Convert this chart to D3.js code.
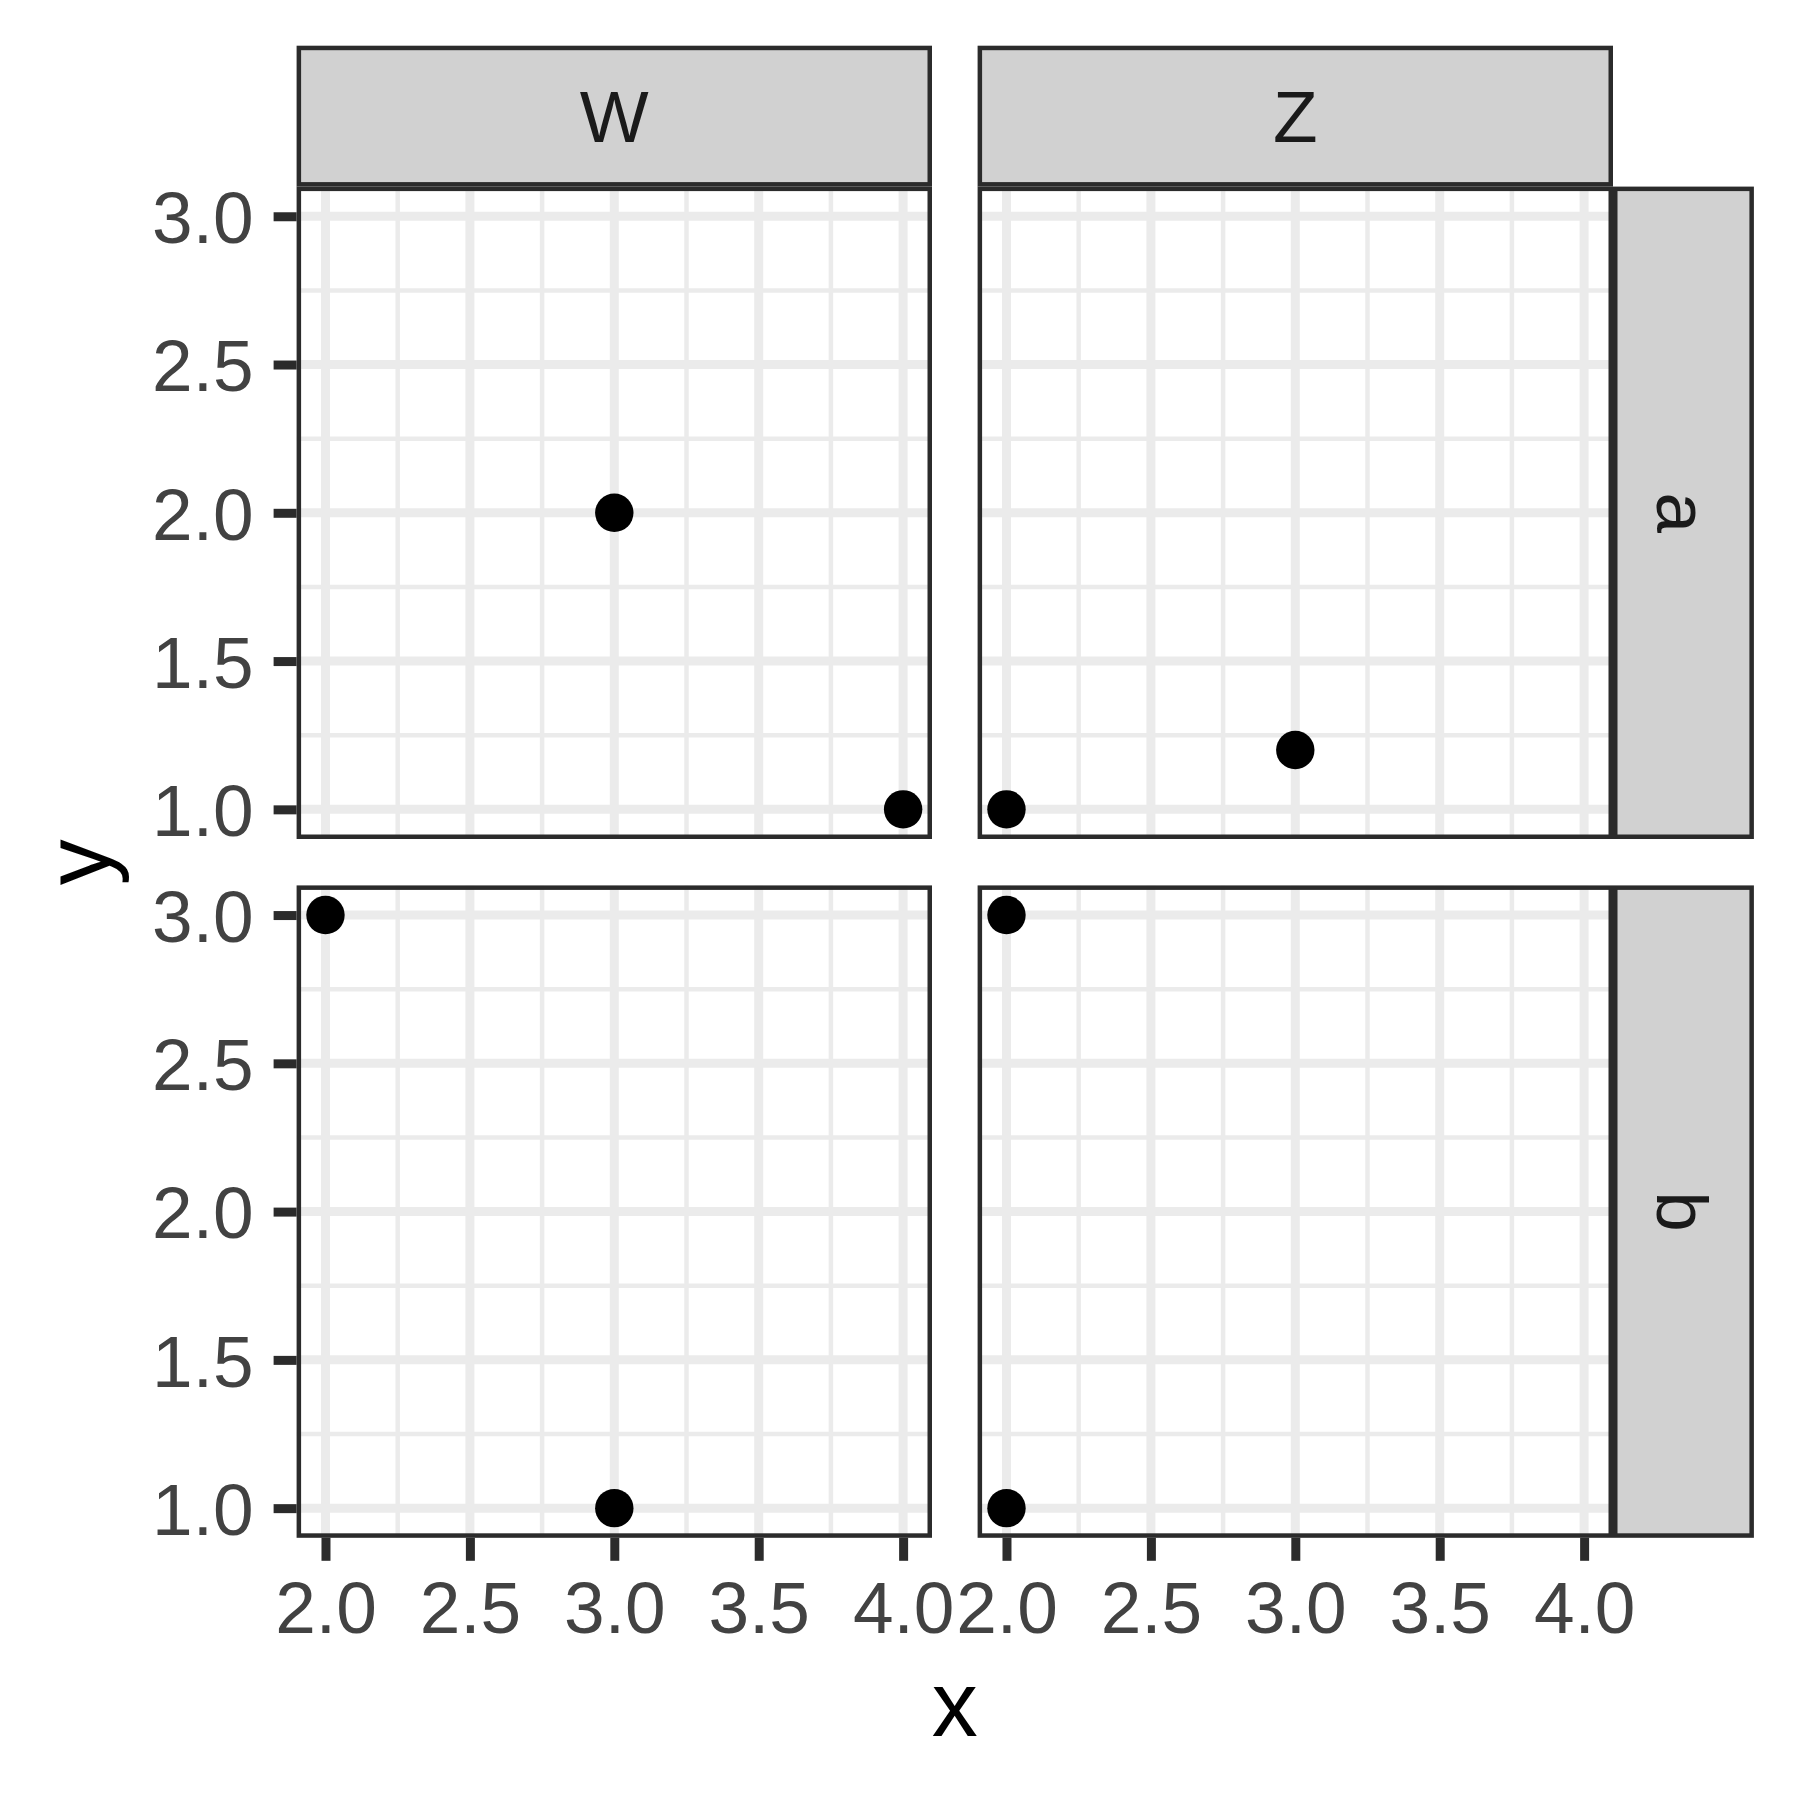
<!DOCTYPE html>
<html>
<head>
<meta charset="utf-8">
<script src="https://cdn.jsdelivr.net/npm/d3@7"></script>
<style>
  html, body { margin: 0; padding: 0; background: #ffffff; }
  svg { display: block; }
  text { font-family: "Liberation Sans", Arial, Helvetica, sans-serif; }
</style>
</head>
<body>
<svg id="chart" width="1800" height="1800"></svg>
<script>
// ---- data ----
const colFacets = ["W", "Z"];
const rowFacets = ["a", "b"];
const pointsWA = [{x: 3, y: 2}, {x: 4, y: 1}];
const pointsZA = [{x: 2, y: 1}, {x: 3, y: 1.2}];
const pointsWB = [{x: 2, y: 3}, {x: 3, y: 1}];
const pointsZB = [{x: 2, y: 3}, {x: 2, y: 1}];
const xTicks = [2.0, 2.5, 3.0, 3.5, 4.0];
const yTicks = [1.0, 1.5, 2.0, 2.5, 3.0];
const xMinor = [2.25, 2.75, 3.25, 3.75];
const yMinor = [1.25, 1.75, 2.25, 2.75];
const xDomain = [1.9, 4.1];
const yDomain = [0.9, 3.1];
const xTitle = "x";
const yTitle = "y";

const panels = [
  {col: 0, row: 0, pts: pointsWA},
  {col: 1, row: 0, pts: pointsZA},
  {col: 0, row: 1, pts: pointsWB},
  {col: 1, row: 1, pts: pointsZB}
];

// ---- layout ----
const colX = [296.6, 977.6];
const panelW = 635.4;
const rowY = [186.6, 885.4];
const panelH = 652.4;
const stripTopY = 45.7;
const stripSize = 140.9;
const stripRightX = colX[1] + panelW;

const lineW = 9;        // base line width
const halfW = lineW / 2;
const borderCol = "#2B2B2B";
const gridCol = "#EBEBEB";
const stripFill = "#D1D1D1";
const tickLabCol = "#424242";
const stripTextCol = "#1A1A1A";
const tickFont = 73;
const titleFont = 92;

const svg = d3.select("#chart");

function xScale(col) {
  return d3.scaleLinear().domain(xDomain).range([colX[col], colX[col] + panelW]);
}
function yScale(row) {
  return d3.scaleLinear().domain(yDomain).range([rowY[row] + panelH, rowY[row]]);
}

// ---- panels ----
panels.forEach(p => {
  const xs = xScale(p.col), ys = yScale(p.row);
  const g = svg.append("g");
  const x0 = colX[p.col], y0 = rowY[p.row];
  const clipId = "clip" + p.col + p.row;
  svg.append("clipPath").attr("id", clipId)
    .append("rect").attr("x", x0).attr("y", y0).attr("width", panelW).attr("height", panelH);
  const inner = g.append("g").attr("clip-path", "url(#" + clipId + ")");
  inner.append("rect").attr("x", x0).attr("y", y0).attr("width", panelW).attr("height", panelH).attr("fill", "#ffffff");
  // minor grid
  inner.selectAll(".vminor").data(xMinor).join("line")
    .attr("x1", d => xs(d)).attr("x2", d => xs(d)).attr("y1", y0).attr("y2", y0 + panelH)
    .attr("stroke", gridCol).attr("stroke-width", lineW / 2);
  inner.selectAll(".hminor").data(yMinor).join("line")
    .attr("y1", d => ys(d)).attr("y2", d => ys(d)).attr("x1", x0).attr("x2", x0 + panelW)
    .attr("stroke", gridCol).attr("stroke-width", lineW / 2);
  // major grid
  inner.selectAll(".vmajor").data(xTicks).join("line")
    .attr("x1", d => xs(d)).attr("x2", d => xs(d)).attr("y1", y0).attr("y2", y0 + panelH)
    .attr("stroke", gridCol).attr("stroke-width", lineW);
  inner.selectAll(".hmajor").data(yTicks).join("line")
    .attr("y1", d => ys(d)).attr("y2", d => ys(d)).attr("x1", x0).attr("x2", x0 + panelW)
    .attr("stroke", gridCol).attr("stroke-width", lineW);
  // points
  inner.selectAll(".pt").data(p.pts).join("circle")
    .attr("cx", d => xs(d.x)).attr("cy", d => ys(d.y)).attr("r", 19.2)
    .attr("fill", "#000000");
  // border (clipped half)
  g.append("rect").attr("x", x0 + halfW / 2).attr("y", y0 + halfW / 2)
    .attr("width", panelW - halfW).attr("height", panelH - halfW)
    .attr("fill", "none").attr("stroke", borderCol).attr("stroke-width", halfW);
});

// ---- axes ----
function styleAxis(sel) {
  sel.select(".domain").remove();
  sel.selectAll(".tick line").attr("stroke", borderCol).attr("stroke-width", lineW);
  sel.selectAll(".tick text").attr("fill", tickLabCol).attr("font-size", tickFont)
    .style("font-family", '"Liberation Sans", Arial, Helvetica, sans-serif');
}
[0, 1].forEach(row => {
  const ax = svg.append("g").attr("transform", "translate(" + colX[0] + ",0)")
    .call(d3.axisLeft(yScale(row)).tickValues(yTicks).tickFormat(d3.format(".1f"))
      .tickSizeInner(23).tickSizeOuter(0).tickPadding(20));
  styleAxis(ax);
  ax.selectAll(".tick text").attr("dy", "0.36em");
});
[0, 1].forEach(col => {
  const ax = svg.append("g").attr("transform", "translate(0," + (rowY[1] + panelH) + ")")
    .call(d3.axisBottom(xScale(col)).tickValues(xTicks).tickFormat(d3.format(".1f"))
      .tickSizeInner(23).tickSizeOuter(0).tickPadding(20));
  styleAxis(ax);
  ax.selectAll(".tick text").attr("dy", "0.72em");
});

// ---- strips ----
colFacets.forEach((lab, col) => {
  const x0 = colX[col];
  svg.append("rect").attr("x", x0 + halfW / 2).attr("y", stripTopY + halfW / 2)
    .attr("width", panelW - halfW).attr("height", stripSize - halfW)
    .attr("fill", stripFill).attr("stroke", borderCol).attr("stroke-width", halfW);
  svg.append("text").attr("x", x0 + panelW / 2).attr("y", stripTopY + stripSize / 2 + 0.358 * tickFont)
    .attr("text-anchor", "middle").attr("font-size", tickFont).attr("fill", stripTextCol).text(lab);
});
rowFacets.forEach((lab, row) => {
  const y0 = rowY[row];
  svg.append("rect").attr("x", stripRightX + halfW / 2).attr("y", y0 + halfW / 2)
    .attr("width", stripSize - halfW).attr("height", panelH - halfW)
    .attr("fill", stripFill).attr("stroke", borderCol).attr("stroke-width", halfW);
  const cx = stripRightX + stripSize / 2, cy = y0 + panelH / 2;
  svg.append("text").attr("transform", "translate(" + cx + "," + cy + ") rotate(90)")
    .attr("x", 0).attr("y", 0.358 * tickFont)
    .attr("text-anchor", "middle").attr("font-size", tickFont).attr("fill", stripTextCol).text(lab);
});

// ---- axis titles ----
svg.append("text").attr("x", (colX[0] + colX[1] + panelW) / 2).attr("y", 1736)
  .attr("text-anchor", "middle").attr("font-size", titleFont).attr("fill", "#000000").text(xTitle);
svg.append("text").attr("transform", "translate(110," + (rowY[0] + rowY[1] + panelH) / 2 + ") rotate(-90)")
  .attr("text-anchor", "middle").attr("font-size", titleFont).attr("fill", "#000000").text(yTitle);
</script>
</body>
</html>
